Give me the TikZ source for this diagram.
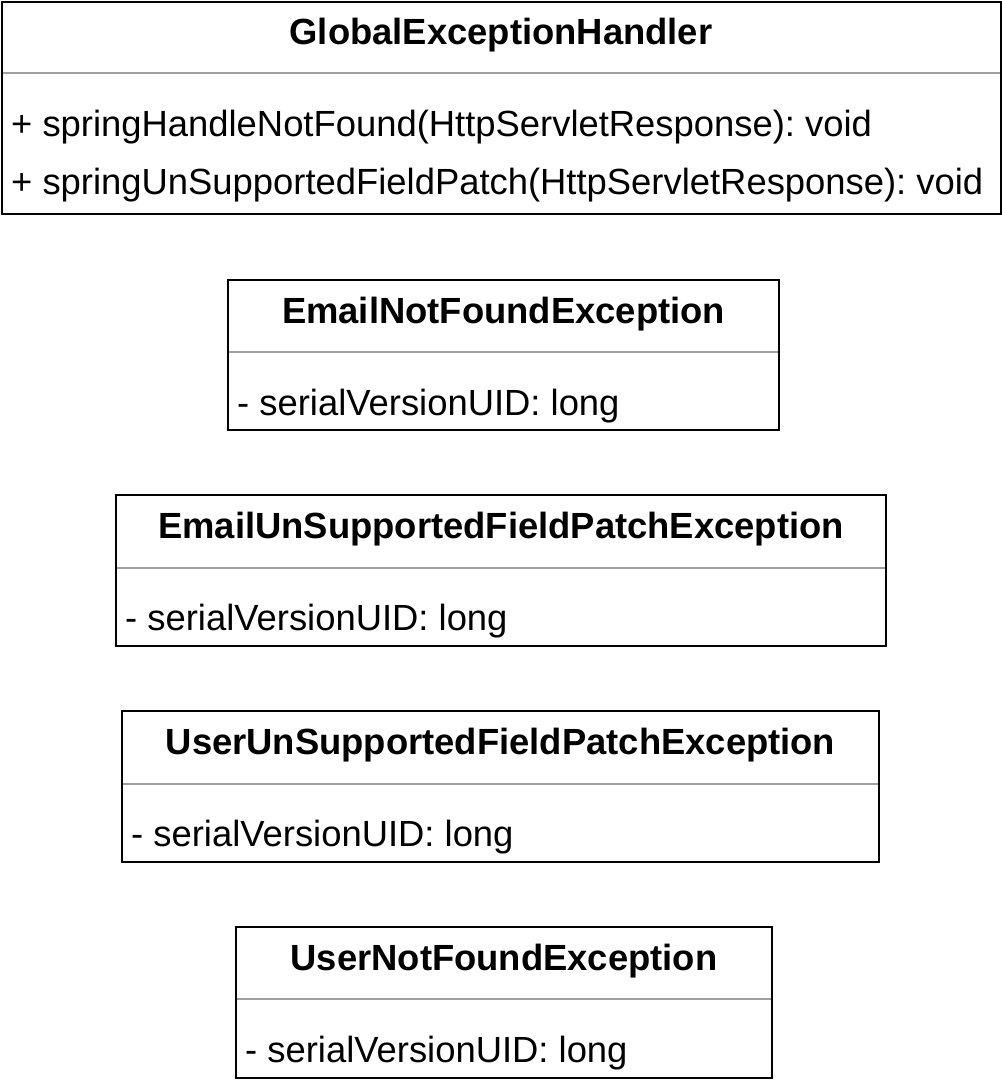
\documentclass[tikz,border=0pt]{standalone}
\usepackage{fontspec}
\setmainfont{Liberation Sans}
\frenchspacing
\begin{document}
\begin{tikzpicture}[x=1pt,y=-1pt,
  classbox/.style={draw=black,line width=2pt,fill=white,rectangle,
    inner sep=0pt,outer sep=0pt,anchor=north west},
  classname/.style={font=\fontsize{36.4}{43}\selectfont\bfseries,inner sep=0pt,anchor=base},
  member/.style={font=\fontsize{36.4}{43}\selectfont,inner sep=0pt,anchor=base west},
  divider/.style={draw=gray!75,line width=2pt,shorten <=1pt,shorten >=1pt}]
\useasboundingbox[fill=white] (0,0) rectangle (1002,1080);

% GlobalExceptionHandler
\node[classbox,minimum width=999pt,minimum height=212pt] (geh) at (1.5,1.5) {};
\node[classname] (geh-name) at ([yshift=-42.5pt]geh.north) {GlobalExceptionHandler};
\draw[divider] ([yshift=-71.5pt]geh.north west) -- ([yshift=-71.5pt]geh.north east);
\node[member] (geh-m1) at ([xshift=9.5pt,yshift=-134.5pt]geh.north west)
  {+ springHandleNotFound(HttpServletResponse): void};
\node[member] (geh-m2) at ([xshift=9.5pt,yshift=-193pt]geh.north west)
  {+ springUnSupportedFieldPatch(HttpServletResponse): void};

% EmailNotFoundException
\node[classbox,minimum width=551pt,minimum height=150pt] (enf) at (228,280) {};
\node[classname] (enf-name) at ([yshift=-43pt]enf.north) {EmailNotFoundException};
\draw[divider] ([yshift=-72pt]enf.north west) -- ([yshift=-72pt]enf.north east);
\node[member] (enf-a1) at ([xshift=9pt,yshift=-135pt]enf.north west) {- serialVersionUID: long};

% EmailUnSupportedFieldPatchException
\node[classbox,minimum width=770pt,minimum height=151pt] (eus) at (116,495) {};
\node[classname] (eus-name) at ([yshift=-43pt]eus.north) {EmailUnSupportedFieldPatchException};
\draw[divider] ([yshift=-73pt]eus.north west) -- ([yshift=-73pt]eus.north east);
\node[member] (eus-a1) at ([xshift=9pt,yshift=-135pt]eus.north west) {- serialVersionUID: long};

% UserUnSupportedFieldPatchException
\node[classbox,minimum width=757pt,minimum height=151pt] (uus) at (122,711) {};
\node[classname] (uus-name) at ([yshift=-43pt]uus.north) {UserUnSupportedFieldPatchException};
\draw[divider] ([yshift=-73pt]uus.north west) -- ([yshift=-73pt]uus.north east);
\node[member] (uus-a1) at ([xshift=9pt,yshift=-135pt]uus.north west) {- serialVersionUID: long};

% UserNotFoundException
\node[classbox,minimum width=536pt,minimum height=151pt] (unf) at (236,927) {};
\node[classname] (unf-name) at ([yshift=-43pt]unf.north) {UserNotFoundException};
\draw[divider] ([yshift=-72pt]unf.north west) -- ([yshift=-72pt]unf.north east);
\node[member] (unf-a1) at ([xshift=9pt,yshift=-135pt]unf.north west) {- serialVersionUID: long};
\end{tikzpicture}
\end{document}
